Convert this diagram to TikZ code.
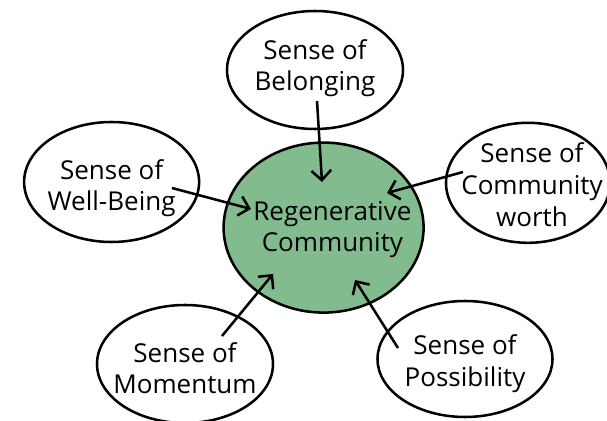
\documentclass[tikz,border=0pt]{standalone}
\usepackage{fontspec}
\setmainfont{Open Sans}
\usetikzlibrary{shapes.geometric,arrows.meta}
\definecolor{regengreen}{RGB}{129,187,142}
\begin{document}
\begin{tikzpicture}[line width=1.8pt,
	bubble/.style={ellipse, draw, fill=white, inner sep=0pt, minimum width=4.4cm, minimum height=2.95cm},
	words/.style={align=center, inner sep=0pt, font=\fontsize{18.5}{22.5}\selectfont},
	feed/.style={-{Straight Barb[length=7pt,width=14pt]}}]
	\useasboundingbox (0,0) rectangle (15.175,10.5);
	% the ellipses
	\node (R) at ( 8.09,  4.81)	[bubble, fill=regengreen, minimum width=5cm, minimum height=4.25cm]	{};
	\node (B) at ( 7.875, 8.75)	[bubble]	{};
	\node (W) at ( 2.79,  5.95)	[bubble, minimum width=4.375cm, minimum height=3cm]	{};
	\node (C) at (13.2,   5.93)	[bubble, minimum width=4.1cm, minimum height=3cm]	{};
	\node (M) at ( 4.625, 1.4)	[bubble]	{};
	\node (P) at (11.625, 1.525)	[bubble, minimum width=4.375cm, minimum height=2.9cm]	{};
	% their texts
	\node (R-text) at ([xshift=0.22cm,yshift=-0.05cm]R)	[words]	{Regenerative\\Community};
	\node (B-text) at ([yshift=0.05cm]B)	[words]	{Sense of\\Belonging};
	\node (W-text) at ([yshift=-0.15cm]W)	[words]	{Sense of\\Well-Being};
	\node (C-text) at ([xshift=0.1cm,yshift=-0.05cm]C)	[words]	{Sense of\\Community\\worth};
	\node (M-text) at ([yshift=-0.1cm]M)	[words]	{Sense of\\Momentum};
	\node (P-text) at ([yshift=-0.12cm]P)	[words]	{Sense of\\Possibility};
	% arrows into the centre
	\coordinate (B0) at ( 7.925, 7.975);	\coordinate (B1) at (8.05,  5.95);
	\coordinate (C0) at (11.575, 6.2);	\coordinate (C1) at (9.675, 5.675);
	\coordinate (W0) at ( 4.3,   5.8);	\coordinate (W1) at (6.275, 5.275);
	\coordinate (M0) at ( 5.55,  2.1);	\coordinate (M1) at (6.825, 3.65);
	\coordinate (P0) at ( 9.95,  1.8);	\coordinate (P1) at (8.875, 3.5);
	\draw[feed] (B0) -- (B1);
	\draw[feed] (C0) -- (C1);
	\draw[feed] (W0) -- (W1);
	\draw[feed] (M0) -- (M1);
	\draw[feed] (P0) -- (P1);
\end{tikzpicture}
\end{document}
